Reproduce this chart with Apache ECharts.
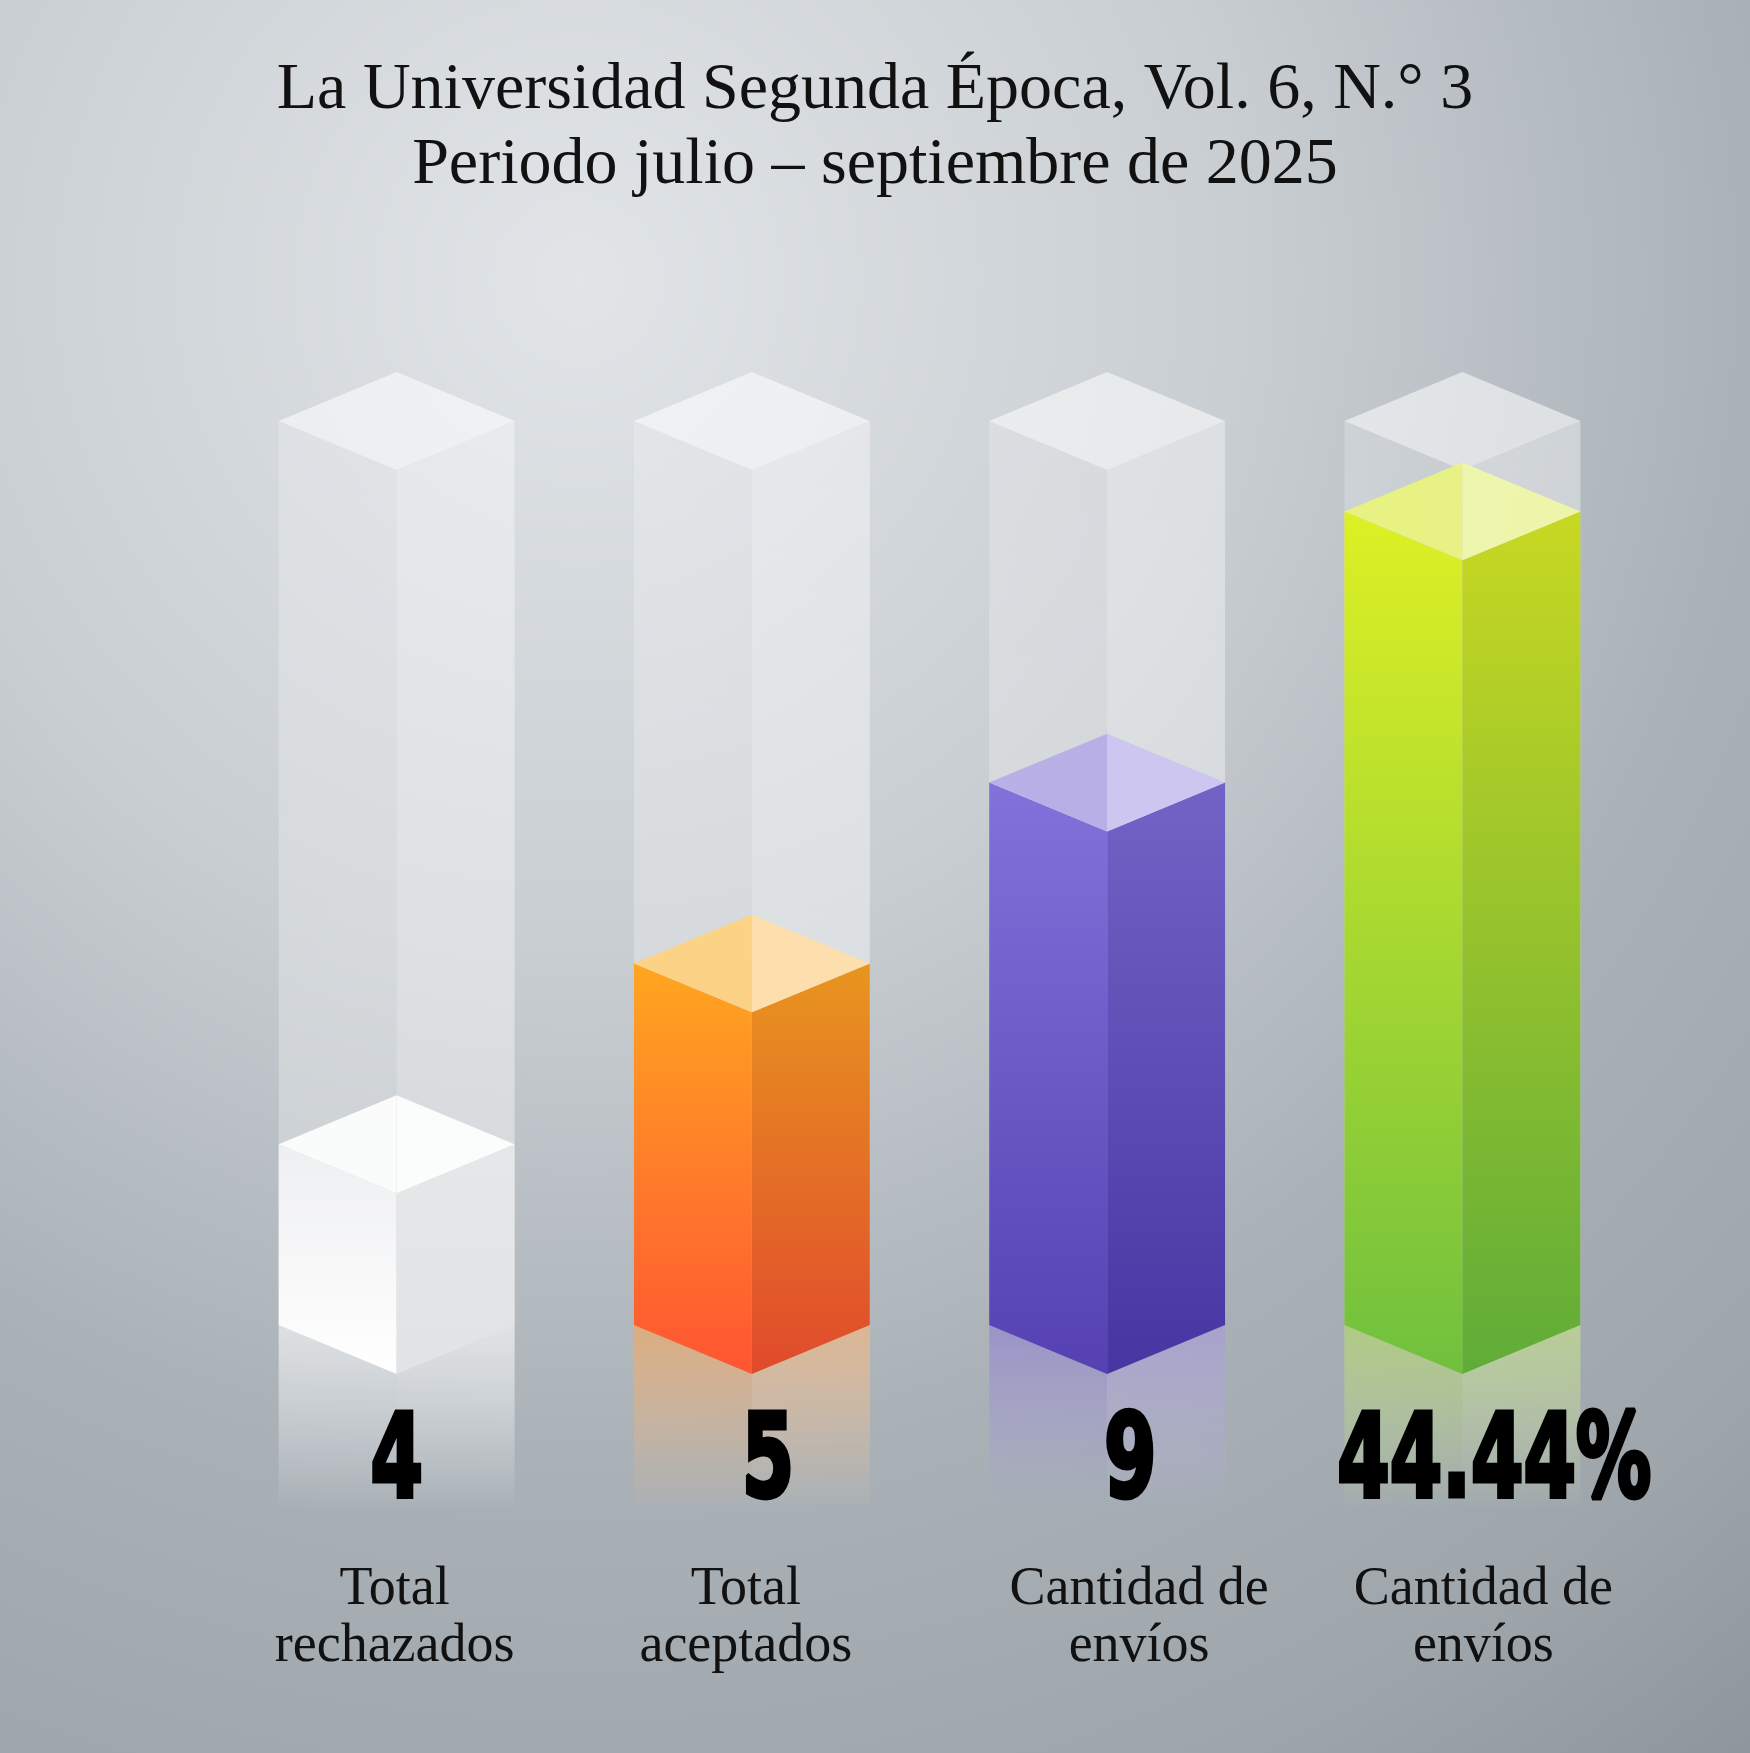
<!DOCTYPE html>
<html>
<head>
<meta charset="utf-8">
<title>La Universidad Segunda Época</title>
<script src="https://cdn.jsdelivr.net/npm/echarts@6.0.0/dist/echarts.min.js"></script>
<style>
  html, body { margin: 0; padding: 0; }
  #main { width: 1750px; height: 1753px; }
</style>
</head>
<body>
<div id="main"></div>
<script>
// datos
const categorias = ['Total\nrechazados', 'Total\naceptados', 'Cantidad de\nenvíos', 'Cantidad de\nenvíos'];
const etiquetas = ['4', '5', '9', '44.44%'];
// altura de llenado de cada columna (0 - 100)
const niveles = [20, 40, 60, 90];
const nivelMax = 100;

// colores de cada columna
const colores = [
  { izq: ['#eeeff1', '#ffffff'], der: ['#e6e7e9', '#e2e3e5'], tapa: ['#ffffff', '#ffffff'], refl: '255,255,255', reflA: 0.4 },
  { izq: ['#ffa620', '#ff5533'], der: ['#e8951f', '#e04a2c'], tapa: ['#ffd07c', '#ffdfa6'], refl: '232,150,72', reflA: 0.6 },
  { izq: ['#8272da', '#5541b2'], der: ['#7363c6', '#4736a2'], tapa: ['#b6abe8', '#cbc3f2'], refl: '125,110,195', reflA: 0.6 },
  { izq: ['#def024', '#70c03e'], der: ['#c8d822', '#5fac38'], tapa: ['#ebf57a', '#f1f8a6'], refl: '165,205,85', reflA: 0.6 }
];
// pequeños desplazamientos horizontales de los textos
const corrNumero = [0, 16, 23, 32];
const corrTexto = [-2, -6, 32, 21];

const chart = echarts.init(document.getElementById('main'));

function grad(stops) {
  return new echarts.graphic.LinearGradient(0, 0, 0, 1, stops.map((c, k) => ({ offset: k / (stops.length - 1), color: c })));
}

function poly(pts, fill) {
  return { type: 'polygon', shape: { points: pts }, style: { fill: fill } };
}

function dibujar(params, api) {
  const i = params.dataIndex;
  const base = api.coord([i, 0]);
  const cima = api.coord([i, api.value(1)]);
  const tope = api.coord([i, nivelMax]);
  const cx = base[0];
  const hw = api.size([1, 0])[0] * 0.332;
  const dh = hw * 0.415;
  const yb = base[1], yt = cima[1], yf = tope[1];
  const yfin = yb + 185;
  const c = colores[i];
  const kb = (yb - yf) / (yfin - yf);

  const hijos = [];
  // columna fantasma (vidrio)
  hijos.push(poly([[cx - hw, yf], [cx, yf + dh], [cx, yfin], [cx - hw, yfin]],
    new echarts.graphic.LinearGradient(0, 0, 0, 1, [
      { offset: 0, color: 'rgba(255,255,255,0.2)' },
      { offset: kb, color: 'rgba(255,255,255,0.3)' },
      { offset: 1, color: 'rgba(255,255,255,0)' }])));
  hijos.push(poly([[cx, yf + dh], [cx + hw, yf], [cx + hw, yfin], [cx, yfin]],
    new echarts.graphic.LinearGradient(0, 0, 0, 1, [
      { offset: 0, color: 'rgba(255,255,255,0.36)' },
      { offset: kb, color: 'rgba(255,255,255,0.42)' },
      { offset: 1, color: 'rgba(255,255,255,0)' }])));
  // reflejo bajo la barra
  hijos.push(poly([[cx - hw, yb], [cx, yb], [cx, yfin], [cx - hw, yfin]],
    grad(['rgba(' + c.refl + ',' + c.reflA + ')', 'rgba(' + c.refl + ',0)'])));
  hijos.push(poly([[cx, yb], [cx + hw, yb], [cx + hw, yfin], [cx, yfin]],
    grad(['rgba(' + c.refl + ',' + (c.reflA * 0.8) + ')', 'rgba(' + c.refl + ',0)'])));
  // barra
  hijos.push(poly([[cx - hw, yt], [cx, yt + dh], [cx, yb + dh], [cx - hw, yb]], grad(c.izq)));
  hijos.push(poly([[cx, yt + dh], [cx + hw, yt], [cx + hw, yb], [cx, yb + dh]], grad(c.der)));
  // tapa del fantasma
  hijos.push(poly([[cx - hw, yf], [cx, yf - dh], [cx + hw, yf], [cx, yf + dh]], 'rgba(255,255,255,0.55)'));
  // tapa de la barra
  hijos.push({ type: 'polygon', shape: { points: [[cx - hw, yt], [cx, yt - dh], [cx, yt + dh]] }, style: { fill: c.tapa[0], opacity: 0.9 } });
  hijos.push({ type: 'polygon', shape: { points: [[cx, yt - dh], [cx + hw, yt], [cx, yt + dh]] }, style: { fill: c.tapa[1], opacity: 0.9 } });
  // numero
  hijos.push({
    type: 'text', x: cx + corrNumero[i], y: yb + 141, scaleX: 0.65,
    style: { text: etiquetas[i], font: 'bold 116px "DejaVu Sans"', fill: '#000', stroke: '#000', lineWidth: 5, align: 'center', verticalAlign: 'middle' }
  });
  // nombre de la categoria
  hijos.push({
    type: 'text', x: cx + corrTexto[i], y: yb + 236,
    style: { text: categorias[i], font: '54px "Liberation Serif"', fill: '#111', align: 'center', verticalAlign: 'top', lineHeight: 57 }
  });
  return { type: 'group', children: hijos };
}

chart.setOption({
  backgroundColor: {
    type: 'radial', x: 0.33, y: 0.16, r: 1.08,
    colorStops: [
      { offset: 0, color: '#e1e5e8' },
      { offset: 0.35, color: '#c9ced2' },
      { offset: 0.62, color: '#aab2b8' },
      { offset: 0.85, color: '#9ea6ac' },
      { offset: 1, color: '#8d969c' }
    ]
  },
  title: {
    text: 'La Universidad Segunda Época, Vol. 6, N.° 3\nPeriodo julio – septiembre de 2025',
    left: 'center', top: 48,
    textStyle: { fontFamily: 'Liberation Serif', fontSize: 66, fontWeight: 'normal', lineHeight: 75, color: '#111' }
  },
  grid: { left: 219, right: 110, top: 421, bottom: 428 },
  xAxis: { type: 'category', data: categorias, show: false },
  yAxis: { type: 'value', min: 0, max: nivelMax, show: false },
  series: [{
    type: 'custom',
    renderItem: dibujar,
    data: niveles.map((v, i) => [i, v])
  }]
});
</script>
</body>
</html>
